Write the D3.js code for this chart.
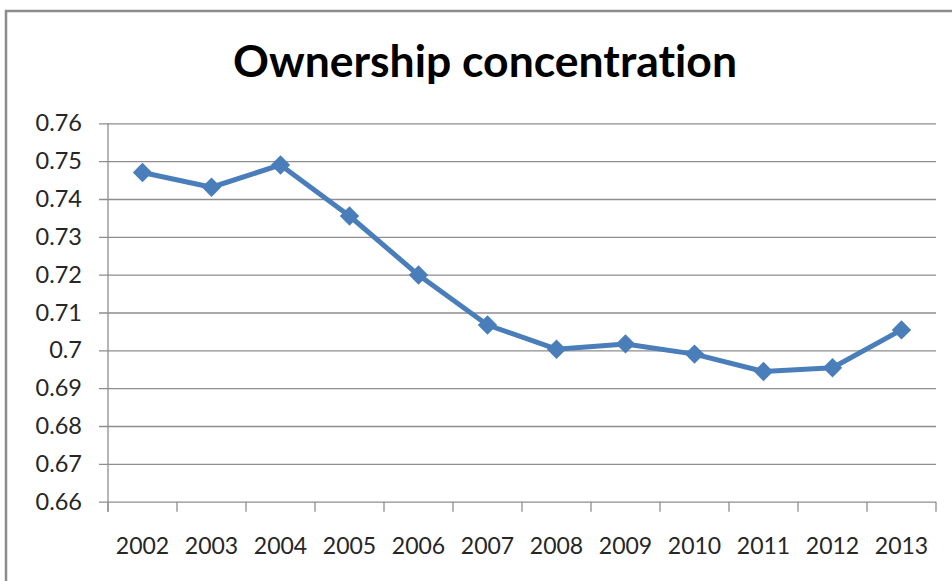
<!DOCTYPE html>
<html>
<head>
<meta charset="utf-8">
<script src="https://cdn.jsdelivr.net/npm/d3@7"></script>
<style>
  html, body { margin: 0; padding: 0; background: #fff; }
  svg { display: block; }
  text { font-variant-ligatures: none; font-feature-settings: "liga" 0, "clig" 0; }
</style>
</head>
<body>
<div id="chart"></div>
<script>
// Ownership concentration by year
const years = ["2002", "2003", "2004", "2005", "2006", "2007", "2008", "2009", "2010", "2011", "2012", "2013"];
const concentration = [0.747, 0.7431, 0.749, 0.7355, 0.7199, 0.7067, 0.7003, 0.7017, 0.699, 0.6944, 0.6954, 0.7054];
const yTicks = [0.66, 0.67, 0.68, 0.69, 0.70, 0.71, 0.72, 0.73, 0.74, 0.75, 0.76];
const titleText = "Ownership concentration";

const W = 952, H = 581;
const margin = { left: 108, right: 16, top: 123.3, bottom: 79.3 };

const svg = d3.select("#chart").append("svg")
  .attr("width", W).attr("height", H);

// chart frame
svg.append("path")
  .attr("d", `M6,${H} L6,11 L${W},11`)
  .attr("fill", "none")
  .attr("stroke", "#8c8c8c")
  .attr("stroke-width", 2.5);

const x = d3.scaleBand()
  .domain(years)
  .range([margin.left, W - margin.right])
  .paddingInner(0).paddingOuter(0);

const y = d3.scaleLinear()
  .domain([0.66, 0.76])
  .range([H - margin.bottom, margin.top]);

const gridColor = "#8e8e8e";
const labelFont = "Lato, 'Open Sans', sans-serif";
const labelColor = "#262626";

// horizontal gridlines with outward ticks and labels
const yAxis = d3.axisLeft(y)
  .tickValues(yTicks)
  .tickSize(-(W - margin.right - margin.left))
  .tickFormat(d => d3.format("")(+d.toFixed(2)));

const gy = svg.append("g")
  .attr("transform", `translate(${margin.left},0)`)
  .call(yAxis);
gy.select(".domain").remove();
gy.selectAll(".tick line")
  .attr("x1", -9)
  .attr("stroke", gridColor)
  .attr("stroke-width", 1.3);
gy.selectAll(".tick text")
  .attr("font-family", labelFont)
  .attr("font-size", 23.5)
  .attr("fill", labelColor)
  .attr("x", -26);

// vertical value axis line
svg.append("line")
  .attr("x1", margin.left).attr("x2", margin.left)
  .attr("y1", margin.top).attr("y2", H - margin.bottom + 10)
  .attr("stroke", gridColor).attr("stroke-width", 1.3);

// category axis: ticks at band boundaries, labels at band centres
const xBottom = H - margin.bottom;
const boundaries = years.map(d => x(d)).concat([x(years[years.length - 1]) + x.bandwidth()]);
svg.append("g").selectAll("line")
  .data(boundaries)
  .join("line")
  .attr("x1", d => d).attr("x2", d => d)
  .attr("y1", xBottom).attr("y2", xBottom + 10)
  .attr("stroke", gridColor).attr("stroke-width", 1.3);

svg.append("g").selectAll("text")
  .data(years)
  .join("text")
  .attr("x", d => x(d) + x.bandwidth() / 2)
  .attr("y", 553.5)
  .attr("text-anchor", "middle")
  .attr("font-family", labelFont)
  .attr("font-size", 23)
  .attr("fill", labelColor)
  .text(d => d);

// title
svg.append("text")
  .attr("x", 485)
  .attr("y", 77)
  .attr("text-anchor", "middle")
  .attr("font-family", "Lato, 'Open Sans', sans-serif")
  .attr("font-weight", "bold")
  .attr("font-size", 43)
  .attr("textLength", 504)
  .attr("lengthAdjust", "spacingAndGlyphs")
  .attr("fill", "#000")
  .text(titleText);

// series line
const pts = years.map((d, i) => ({ year: d, value: concentration[i] }));
const blue = "#4a7ebb";
svg.append("path")
  .datum(pts)
  .attr("fill", "none")
  .attr("stroke", blue)
  .attr("stroke-width", 5)
  .attr("stroke-linejoin", "round")
  .attr("d", d3.line()
    .x(d => x(d.year) + x.bandwidth() / 2)
    .y(d => y(d.value)));

// diamond markers
svg.append("g").selectAll("path")
  .data(pts)
  .join("path")
  .attr("transform", d => `translate(${x(d.year) + x.bandwidth() / 2},${y(d.value)})`)
  .attr("d", d3.symbol(d3.symbolDiamond2, 240))
  .attr("fill", blue);
</script>
</body>
</html>
